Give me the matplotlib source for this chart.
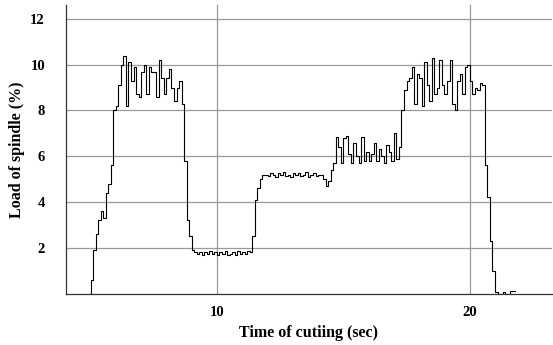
import numpy as np
import matplotlib
matplotlib.use("Agg")
import matplotlib.pyplot as plt

# sampling of the spindle load signal
t_start = 4.9
t_step = 0.1

load = [
    0.0, 0.6, 1.9, 2.6, 3.2, 3.6, 3.3, 4.4, 4.8, 5.6,          # 4.9 - 5.8
    8.0, 8.2, 9.1, 10.0, 10.4, 8.2, 10.1, 9.3, 9.9, 8.7,       # 5.9 - 6.8
    8.6, 9.7, 10.0, 8.7, 9.9, 9.7, 9.7, 8.6, 10.2, 9.4,        # 6.9 - 7.8
    8.7, 9.4, 9.8, 9.0, 8.4, 9.0, 9.3, 8.3, 5.8, 3.2,          # 7.9 - 8.8
    2.5, 1.9, 1.8, 1.75, 1.8, 1.7, 1.8, 1.75, 1.85, 1.75,      # 8.9 - 9.8
    1.8, 1.7, 1.8, 1.75, 1.85, 1.7, 1.75, 1.8, 1.7, 1.85,      # 9.9 - 10.8
    1.75, 1.8, 1.75, 1.85, 1.8, 2.5, 4.1, 4.6, 5.0, 5.2,       # 10.9 - 11.8
    5.2, 5.15, 5.25, 5.2, 5.1, 5.25, 5.2, 5.3, 5.15, 5.2,      # 11.9 - 12.8
    5.1, 5.25, 5.2, 5.25, 5.15, 5.2, 5.3, 5.1, 5.2, 5.25,      # 12.9 - 13.8
    5.15, 5.2, 5.2, 5.0, 4.7, 4.9, 5.4, 5.7, 6.85, 6.4,        # 13.9 - 14.8
    5.7, 6.8, 6.9, 6.1, 5.7, 6.6, 6.0, 5.7, 6.85, 5.8,         # 14.9 - 15.8
    6.2, 5.8, 6.1, 6.6, 5.8, 6.3, 6.0, 5.7, 6.5, 6.2,          # 15.9 - 16.8
    5.8, 7.0, 5.9, 6.4, 8.0, 8.9, 9.3, 9.4, 9.9, 8.3,          # 16.9 - 17.8
    9.6, 9.4, 8.2, 10.1, 9.1, 8.4, 10.3, 8.7, 9.0, 10.2,       # 17.9 - 18.8
    9.1, 8.7, 9.3, 10.2, 8.3, 8.0, 9.3, 9.6, 8.7, 9.9,         # 18.9 - 19.8
    10.0, 9.3, 8.7, 9.0, 8.9, 9.2, 9.1, 5.6, 4.2, 2.3,         # 19.9 - 20.8
    1.0, 0.05, 0.0, 0.0, 0.05, 0.0, 0.0, 0.1, 0.1, 0.1,        # 20.9 - 21.8
]
time = np.round(t_start + t_step * np.arange(len(load)), 2)

x_ticks = [10, 20]
y_ticks = [2, 4, 6, 8, 10, 12]

plt.rcParams['font.family'] = ['Liberation Serif', 'DejaVu Serif']
plt.rcParams['font.weight'] = 'bold'

fig = plt.figure(figsize=(5.53, 3.45), dpi=100)
ax = fig.add_axes([0.119, 0.149, 0.879, 0.836])

ax.step(time, load, where='post', color='black', linewidth=0.8, zorder=3)

ax.set_xlim(4.02, 23.25)
ax.set_ylim(0, 12.6)
ax.set_xticks(x_ticks)
ax.set_yticks(y_ticks)
ax.grid(True, color='#9a9a9a', linewidth=0.9)
ax.set_axisbelow(True)

for s in ['top', 'right']:
    ax.spines[s].set_visible(False)
for s in ['left', 'bottom']:
    ax.spines[s].set_color('#333333')
    ax.spines[s].set_linewidth(0.9)

ax.tick_params(axis='both', length=0, labelsize=10.5)
ax.tick_params(axis='y', pad=15)
ax.tick_params(axis='x', pad=9)
for lab in ax.get_xticklabels() + ax.get_yticklabels():
    lab.set_fontweight('bold')

ax.set_xlabel('Time of cutiing (sec)', fontsize=11.5, fontweight='bold', labelpad=4.5)
ax.set_ylabel('Load of spindle (%)', fontsize=11.5, fontweight='bold', labelpad=4)

fig.savefig('out.png', dpi=100)
